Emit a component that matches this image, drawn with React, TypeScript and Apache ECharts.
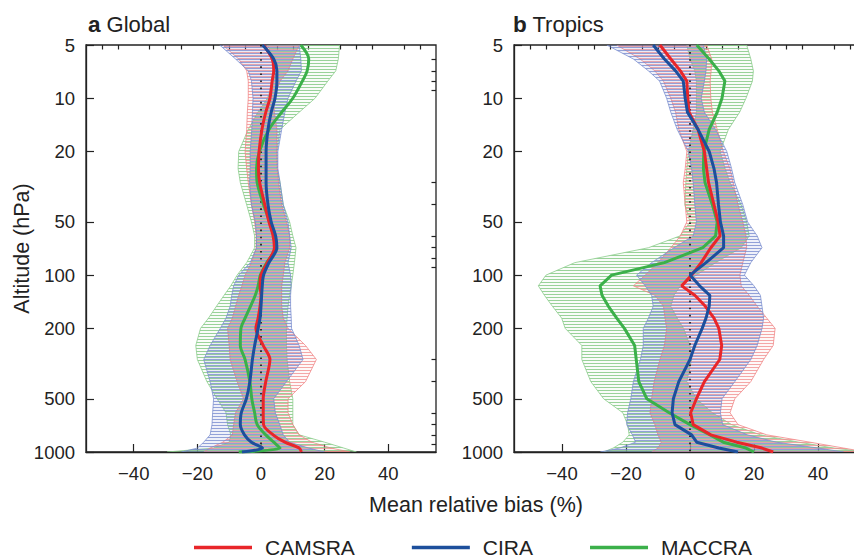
import React, { useEffect, useRef } from 'react';
import * as echarts from 'echarts';

// Pressure levels (hPa)
const levels = [5, 6, 7, 8, 10, 12, 15, 20, 25, 30, 40, 50, 60, 70, 85, 100, 115, 130, 150, 175, 200, 250, 300, 400, 500, 600, 700, 800, 880, 950, 1000];

// Panel a — Global
const gCamsra = [0.8, 3.5, 4.0, 3.5, 2.8, 1.5, 0.3, -0.6, -0.8, -0.4, 1.2, 2.5, 3.8, 4.2, 2.0, 0.0, -0.3, 0.0, -0.3, -0.9, -1.6, 0.7, 2.8, 1.5, 0.7, 0.7, 0.8, 3.8, 7.5, 12.0, 12.7];
const gCamsraLo = [-12, -7, -4.5, -4, -4, -4.3, -4.5, -5, -4.5, -4, -3, -2, -1.5, -1.5, -3, -5, -6, -7, -8, -9, -10.5, -10, -9.7, -7.5, -5.5, -8, -8.6, -9, -12, -16, -18];
const gCamsraHi = [12, 10, 8.5, 6, 4, 4.2, 5, 5, 5.2, 5.5, 6.5, 8, 9, 9, 7.5, 7, 6.5, 6.5, 6.5, 7, 8.5, 14, 17.4, 14, 8.5, 8.5, 10, 12, 16, 22, 28];
const gCira = [0.5, 4.0, 5.0, 5.0, 4.4, 3.2, 2.2, 1.6, 1.6, 1.6, 2.2, 3.2, 4.6, 5.0, 2.5, 0.8, 0.4, 0.2, 0.0, -0.3, -0.9, -2.0, -2.7, -3.5, -4.6, -6.2, -6.5, -5.2, -3.0, 0.5, -6];
const gCiraLo = [-13, -8, -4, -3, -2.5, -2.7, -2.9, -3.4, -3.4, -3.6, -3, -1.8, -1.4, -1.4, -3.4, -7, -8.6, -9.2, -9.7, -11, -12.8, -16, -18, -16, -14.9, -15.2, -15.4, -16, -18, -20, -25];
const gCiraHi = [12, 12.5, 12.7, 11, 8.5, 7.5, 6.5, 5.3, 5.3, 6, 7, 8.5, 9, 9.5, 8.5, 9.3, 9.5, 9.3, 9.3, 9.5, 9.6, 12, 13.2, 8, 4, 4.5, 5.9, 7, 9, 15, 20];
const gMaccra = [12.5, 15.0, 14.5, 13, 10, 6.5, 2.5, -0.5, -1.4, -1.2, 0.8, 2.8, 4.3, 4.7, 1.8, -0.2, -0.9, -1.8, -3.3, -5.0, -6.3, -6.5, -5.0, -3.5, -2.9, -2.0, -1.2, 1.5, 4.0, 6.0, -7];
const gMaccraLo = [2, 4, 5, 4, 2, -1, -4, -7, -7.2, -6.5, -4.5, -3, -2, -2, -4.5, -7.5, -9.5, -11.6, -14, -16.5, -19, -20.5, -20, -17, -13.8, -11, -10.5, -9.5, -10, -15, -29.5];
const gMaccraHi = [24.7, 24.3, 23.5, 21, 17, 12, 6, 5, 5, 6, 7, 9, 10, 11, 10.5, 10, 9.5, 9, 8.5, 8.2, 8, 8, 8.2, 9, 10, 10, 10, 12, 20, 26, 30];

// Panel b — Tropics
const tCamsra = [-9.4, -6, -3, -1, -0.7, -0.3, 2.5, 4.5, 5.2, 5.8, 7.5, 8.8, 9.4, 6.5, 3.5, 0.5, -2.6, 1.5, 4.8, 7.5, 9, 9.9, 9.3, 4.5, 2, 0.2, 1, 6.5, 14.6, 22.5, 26];
const tCamsraLo = [-22.9, -15.6, -11, -8.3, -6, -4.5, -3.5, -1, -1.5, -2.1, -1.5, -1, -3, -6, -10, -14, -17.7, -11, -8.3, -7.8, -7.3, -8, -9.4, -11.2, -12, -12.5, -11, -10, -9, -10, -12];
const tCamsraHi = [5.2, 6.8, 6.6, 6.3, 6.5, 7, 8.5, 10.4, 12.5, 13.5, 15, 16.5, 17.5, 17.7, 16.5, 15.6, 16, 18.5, 21, 24, 26.6, 26, 23, 19, 14, 12.5, 15, 24, 37.5, 48, 55];
const tCira = [-11.5, -8, -4.5, -2.1, -1.5, -0.8, 2.5, 6, 7.5, 8.3, 8.9, 9.5, 10.5, 10.5, 5, 0, 3, 6.2, 6, 5, 3.8, 1.5, 0, -3.5, -5.2, -5.6, -4.7, 0.5, 2.1, 9, 15];
const tCiraLo = [-26, -17.7, -13, -9.5, -7.3, -6, -4, -0.5, 0.5, 1, 1.5, 2, 1, -5, -12, -16.7, -14, -12, -11.5, -13, -14.6, -14.6, -15.5, -17.7, -18.5, -19.5, -19.8, -18, -17, -22, -28];
const tCiraHi = [4.2, 5.2, 5, 4.5, 3.5, 4.5, 8, 11.5, 13, 14, 16.5, 18, 21, 22.5, 19, 17, 20, 22, 22.5, 23, 22.5, 21, 19, 14, 10, 9.5, 10.2, 18, 27, 40, 48];
const tMaccra = [2.1, 6, 9, 10.9, 10, 8.5, 6, 4.3, 4.2, 4.7, 7, 8.5, 8, 4, -8, -24.5, -28.1, -27.5, -25.5, -22.9, -20.5, -17.3, -16.8, -16, -13.5, -6.5, 0, 6.3, 10.4, 17.5, 20];
const tMaccraLo = [-1, 0, 1.5, 2, 2, 2, 1, -0.5, -1, -1.3, -1.6, 0, -3.1, -13, -36, -45, -47.4, -45.5, -43, -40.1, -39, -33.8, -33.8, -31, -27, -21, -19.5, -19, -21, -24, -27];
const tMaccraHi = [17.7, 19, 19.8, 19.5, 17.5, 15.5, 12, 9.4, 11, 12.5, 16, 17.7, 18.5, 16, 8, 2, -3, -5, -6, -4, -2, 0, 0.5, -1, 2, 7, 13, 22, 34, 45, 55];

const yMajor = [5, 10, 20, 50, 100, 200, 500, 1000];
const yMinor = [6, 7, 8, 9, 30, 40, 60, 70, 80, 90, 300, 400, 600, 700, 800, 900];
const xMajor = [-40, -20, 0, 20, 40];
const xMinor = [-50, -45, -35, -30, -25, -15, -10, -5, 5, 10, 15, 25, 30, 35, 45, 50];

const names = ['CAMSRA', 'CIRA', 'MACCRA'];
const lineColors = ['#e8262a', '#1d4f9c', '#3bb04a'];
const bandStroke = ['rgba(240,130,130,0.75)', 'rgba(120,140,205,0.75)', 'rgba(140,205,140,0.8)'];
const bandHatch = ['rgba(240,140,140,0.75)', 'rgba(115,135,205,0.75)', 'rgba(130,200,130,0.8)'];
const bandTint = ['rgba(240,140,140,0.06)', 'rgba(115,135,205,0.12)', 'rgba(130,200,130,0.05)'];

const FONT = '"Liberation Sans", Arial, Helvetica, sans-serif';
const TXT = '#222';

const lg = (p: number) => Math.log10(p);

function hatch(lineColor: string, bg: string, offset: number) {
  const svg = `<svg xmlns="http://www.w3.org/2000/svg" width="8" height="3"><rect width="8" height="3" fill="${bg}"/><rect y="${offset}" width="8" height="1" fill="${lineColor}"/></svg>`;
  return {
    image: 'data:image/svg+xml;charset=utf-8,' + encodeURIComponent(svg),
    repeat: 'repeat',
    imageWidth: 8,
    imageHeight: 3,
  };
}

function bandSeries(k: number, axisIdx: number, lo: number[], hi: number[], offset: number) {
  const data = levels.map((p, i) => [lo[i], hi[i], lg(p)]);
  const pattern = hatch(bandHatch[k], bandTint[k], offset);
  return {
    type: 'custom',
    name: names[k] + ' range',
    xAxisIndex: axisIdx * 2,
    yAxisIndex: axisIdx * 2,
    silent: true,
    clip: true,
    z: 1,
    data,
    encode: { x: [0, 1], y: 2 },
    renderItem: (params: any, api: any) => {
      if (params.dataIndex !== 0) return null;
      const left = data.map((d) => api.coord([d[0], d[2]]));
      const right = data.map((d) => api.coord([d[1], d[2]])).reverse();
      const points = left.concat(right);
      return {
        type: 'group',
        children: [
          { type: 'polygon', shape: { points }, style: { fill: pattern, stroke: null } },
          { type: 'polygon', shape: { points }, style: { fill: 'none', stroke: bandStroke[k], lineWidth: 1 } },
        ],
      };
    },
  };
}

function lineSeries(k: number, axisIdx: number, vals: number[], smooth: number | boolean, withZero: boolean) {
  const s: any = {
    type: 'line',
    name: names[k],
    xAxisIndex: axisIdx * 2,
    yAxisIndex: axisIdx * 2,
    data: levels.map((p, i) => [vals[i], lg(p)]),
    showSymbol: false,
    symbol: 'none',
    smooth,
    z: 5,
    lineStyle: { color: lineColors[k], width: 3 },
    itemStyle: { color: lineColors[k] },
  };
  if (withZero) {
    s.markLine = {
      silent: true,
      symbol: 'none',
      label: { show: false },
      lineStyle: { color: '#111', width: 1.6, type: [1.6, 5.5] },
      data: [{ xAxis: 0 }],
    };
  }
  return s;
}

function axesFor(gridIndex: number) {
  const xMain = {
    type: 'value',
    gridIndex,
    min: -55,
    max: 55,
    splitLine: { show: false },
    axisLine: { show: true, onZero: false, lineStyle: { color: TXT, width: 1.3 } },
    axisTick: { show: true, inside: true, length: 8, customValues: xMajor, lineStyle: { color: TXT, width: 1.2 } },
    axisLabel: {
      show: true,
      customValues: xMajor,
      margin: 12,
      fontSize: 18.5,
      color: TXT,
      fontFamily: FONT,
      formatter: (v: number) => (v < 0 ? '\u2212' + Math.abs(v) : String(v)),
    },
  };
  const xMinorAxis = {
    type: 'value',
    gridIndex,
    min: -55,
    max: 55,
    splitLine: { show: false },
    axisLine: { show: false, onZero: false },
    axisTick: { show: true, inside: true, length: 4.5, customValues: xMinor, lineStyle: { color: TXT, width: 1.2 } },
    axisLabel: { show: false },
  };
  const yMain = {
    type: 'value',
    gridIndex,
    inverse: true,
    min: lg(5),
    max: lg(1000),
    splitLine: { show: false },
    axisLine: { show: true, onZero: false, lineStyle: { color: TXT, width: 1.3 } },
    axisTick: { show: true, inside: true, length: 8, customValues: yMajor.map(lg), lineStyle: { color: TXT, width: 1.2 } },
    axisLabel: {
      show: true,
      customValues: yMajor.map(lg),
      margin: 11,
      fontSize: 18.5,
      color: TXT,
      fontFamily: FONT,
      formatter: (v: number) => String(Math.round(Math.pow(10, v))),
    },
  };
  const yMinorAxis = {
    type: 'value',
    gridIndex,
    inverse: true,
    min: lg(5),
    max: lg(1000),
    splitLine: { show: false },
    axisLine: { show: false, onZero: false },
    axisTick: { show: true, inside: true, length: 4.5, customValues: yMinor.map(lg), lineStyle: { color: TXT, width: 1.2 } },
    axisLabel: { show: false },
  };
  return { x: [xMain, xMinorAxis], y: [yMain, yMinorAxis] };
}

export default function App() {
  const ref = useRef<HTMLDivElement>(null);
  useEffect(() => {
    if (!ref.current) return;
    const chart = echarts.init(ref.current, undefined, { renderer: 'svg' });
    const a0 = axesFor(0);
    const a1 = axesFor(1);
    const option: any = {
      animation: false,
      backgroundColor: '#ffffff',
      textStyle: { fontFamily: FONT },
      grid: [
        { left: 86, top: 45, width: 350, height: 407, show: true, borderColor: TXT, borderWidth: 1.3, backgroundColor: 'transparent', outerBoundsMode: 'none', containLabel: false },
        { left: 514, top: 45, width: 352, height: 407, show: true, borderColor: TXT, borderWidth: 1.3, backgroundColor: 'transparent', outerBoundsMode: 'none', containLabel: false },
      ],
      xAxis: [...a0.x, ...a1.x],
      yAxis: [...a0.y, ...a1.y],
      title: [
        {
          text: '{b|a} Global',
          left: 83,
          top: 8,
          textStyle: {
            fontSize: 22, fontWeight: 'normal', color: TXT, fontFamily: FONT,
            rich: { b: { fontSize: 22.5, fontWeight: 'bold', color: TXT, fontFamily: FONT } },
          },
        },
        {
          text: '{b|b} Tropics',
          left: 508,
          top: 8,
          textStyle: {
            fontSize: 22, fontWeight: 'normal', color: TXT, fontFamily: FONT,
            rich: { b: { fontSize: 22.5, fontWeight: 'bold', color: TXT, fontFamily: FONT } },
          },
        },
      ],
      graphic: [
        {
          type: 'text',
          x: 22,
          y: 248.5,
          rotation: Math.PI / 2,
          style: { text: 'Altitude (hPa)', fontSize: 21.5, fill: TXT, fontFamily: FONT, align: 'center', verticalAlign: 'middle' },
        },
        {
          type: 'text',
          x: 476,
          y: 505,
          style: { text: 'Mean relative bias (%)', fontSize: 21.5, fill: TXT, fontFamily: FONT, align: 'center', verticalAlign: 'middle' },
        },
      ],
      legend: {
        data: names,
        left: 194,
        top: 537,
        padding: 0,
        icon: 'rect',
        itemWidth: 58,
        itemHeight: 3.5,
        itemGap: 57,
        textStyle: { fontSize: 21, color: TXT, fontFamily: FONT, padding: [0, 0, 0, 8] },
      },
      series: [
        bandSeries(2, 0, gMaccraLo, gMaccraHi, 0),
        bandSeries(0, 0, gCamsraLo, gCamsraHi, 1),
        bandSeries(1, 0, gCiraLo, gCiraHi, 2),
        bandSeries(2, 1, tMaccraLo, tMaccraHi, 0),
        bandSeries(0, 1, tCamsraLo, tCamsraHi, 1),
        bandSeries(1, 1, tCiraLo, tCiraHi, 2),
        lineSeries(2, 0, gMaccra, 0.3, true),
        lineSeries(0, 0, gCamsra, 0.3, false),
        lineSeries(1, 0, gCira, 0.3, false),
        lineSeries(2, 1, tMaccra, false, true),
        lineSeries(0, 1, tCamsra, false, false),
        lineSeries(1, 1, tCira, false, false),
      ],
    };
    chart.setOption(option);
    return () => chart.dispose();
  }, []);
  return <div ref={ref} style={{ position: 'absolute', left: 0, top: 0, width: 854, height: 560 }} />;
}
